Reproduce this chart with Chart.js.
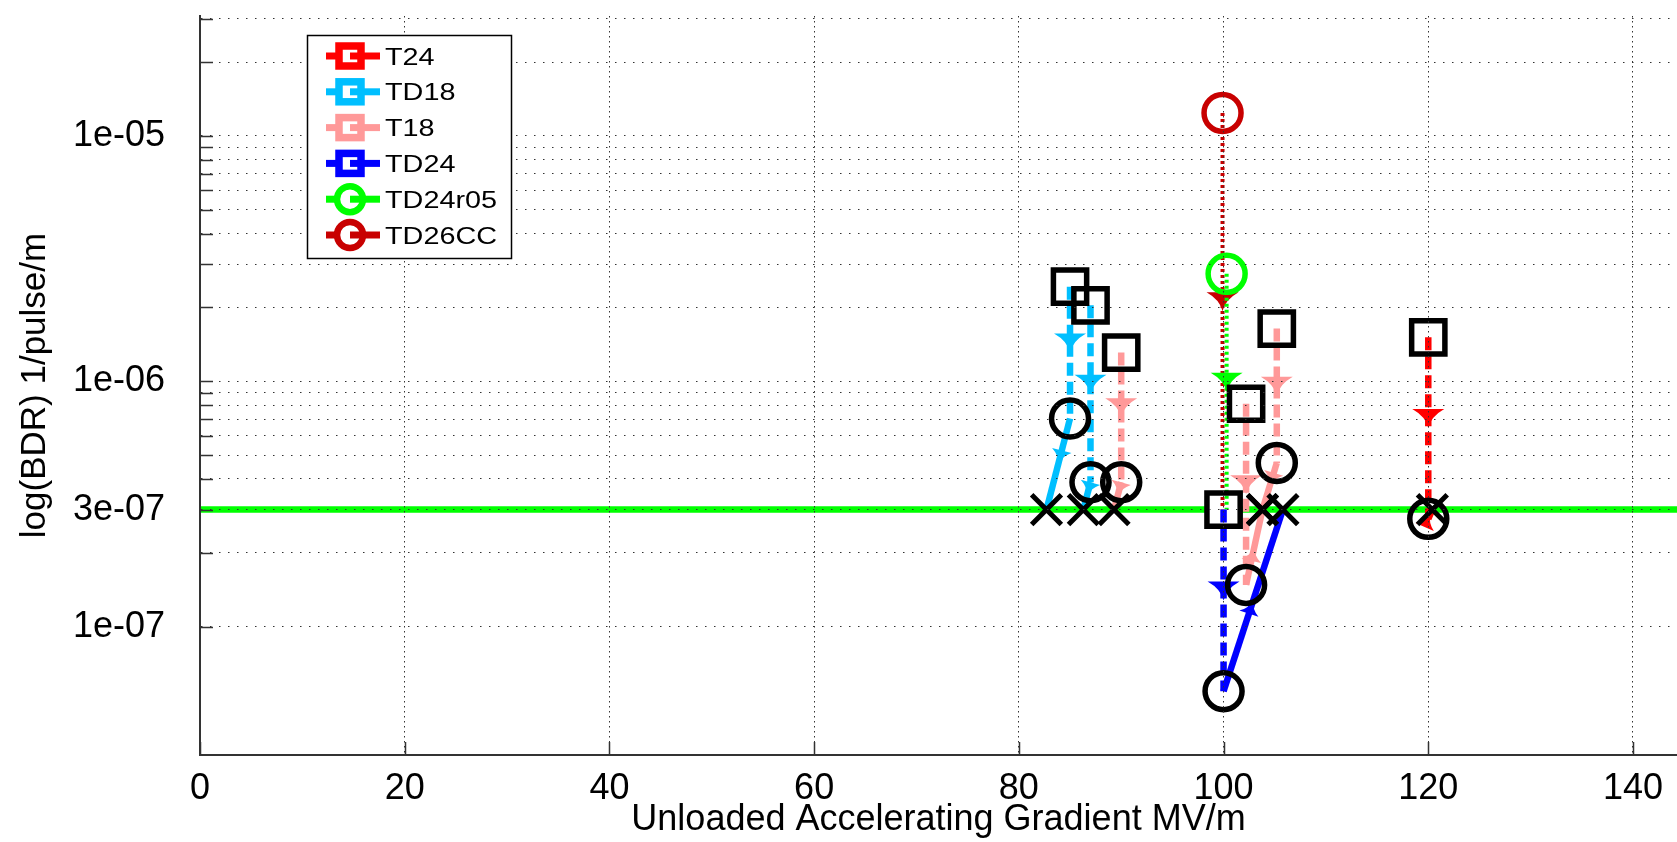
<!DOCTYPE html>
<html>
<head>
<meta charset="utf-8">
<title>Breakdown rate vs unloaded accelerating gradient</title>
<script src="https://cdn.jsdelivr.net/npm/chart.js@4.4.1/dist/chart.umd.min.js"></script>
<style>
  html, body { margin: 0; padding: 0; background: #ffffff; }
  #wrap { width: 1677px; height: 842px; }
</style>
</head>
<body>
<div id="wrap"><canvas id="bdr" width="1677" height="842"></canvas></div>
<script>
// ---- Measurements: one entry per structure run ----
const runDesign      = ['T24', 'TD18', 'TD18', 'T18', 'T18', 'T18', 'TD24', 'TD24r05', 'TD26CC'];
const startGradient  = [120, 85, 87, 90, 102.2, 105.2, 100, 100.3, 99.9];              // MV/m
const startBDR       = [1.51e-6, 2.43e-6, 2.04e-6, 1.31e-6, 8.1e-7, 1.64e-6, 3.0e-7, 2.74e-6, 1.24e-5];
const finalGradient  = [120, 85, 87, 90, 102.2, 105.2, 100, null, null];                // MV/m
const finalBDR       = [2.75e-7, 7.05e-7, 3.88e-7, 3.88e-7, 1.48e-7, 4.65e-7, 5.46e-8, null, null];
const scaledGradient = [120.4, 82.7, 86.3, 89.3, 103.8, 103.8, 105.8, 100.3, 99.9];    // gradient at target BDR
const targetBDR = 3e-7;

const designs = ['T24', 'TD18', 'T18', 'TD24', 'TD24r05', 'TD26CC'];

// ---- Axes ----
const gradientTicks = [0, 20, 40, 60, 80, 100, 120, 140];
const bdrGridValues = [3e-5, 2e-5, 1e-5, 9e-6, 8e-6, 7e-6, 6e-6, 5e-6, 4e-6, 3e-6, 2e-6,
                       1e-6, 9e-7, 8e-7, 7e-7, 6e-7, 5e-7, 4e-7, 3e-7, 2e-7, 1e-7];
const bdrLabelValues = [1e-5, 1e-6, 3e-7, 1e-7];
const bdrLabels      = ['1e-05', '1e-06', '3e-07', '1e-07'];
const xMax = 144.3, yMin = 3.2e-8, yMax = 3.08e-5;

// ---- Styling ----
const FONT = "'Liberation Sans', Arial, Helvetica, sans-serif";
const designStyle = {
  T24:     { color: '#ff0000', marker: 'rect' },
  TD18:    { color: '#00bfff', marker: 'rect' },
  T18:     { color: '#ff9999', marker: 'rect' },
  TD24:    { color: '#0000ff', marker: 'rect' },
  TD24r05: { color: '#00ff00', marker: 'circle' },
  TD26CC:  { color: '#c80000', marker: 'circle' }
};
const BIG_ARROW = { length: 19, width: 32 };
const SMALL_ARROW = { length: 14, width: 20 };
const SQUARE_R = 23.5, CIRCLE_R = 18.5, CROSS_R = 21;
const PATH_WIDTH = 6.5;

const runs = runDesign.map((d, i) => i);
const hasFinal = i => finalBDR[i] !== null;
const isSquare = i => designStyle[runDesign[i]].marker === 'rect';
const colorOf = i => designStyle[runDesign[i]].color;

const datasets = [];

// Target breakdown-rate line across the whole axis
datasets.push({
  label: 'target', data: [{ x: 0, y: targetBDR }, { x: xMax, y: targetBDR }],
  showLine: true, borderColor: '#00ff00', borderWidth: 6.5, pointRadius: 0, order: 30
});

// White faces of the start squares (beneath the lines)
datasets.push({
  label: 'start-face',
  data: runs.filter(isSquare).map(i => ({ x: startGradient[i], y: startBDR[i] })),
  pointStyle: 'rect', pointRadius: SQUARE_R, backgroundColor: '#ffffff', borderWidth: 0, order: 25
});

// Conditioning paths
runs.forEach(i => {
  const c = colorOf(i);
  if (hasFinal(i)) {
    datasets.push({
      label: runDesign[i] + ' conditioning',
      data: [{ x: startGradient[i], y: startBDR[i] }, { x: finalGradient[i], y: finalBDR[i] }],
      showLine: true, borderColor: c, backgroundColor: c, borderWidth: PATH_WIDTH, borderDash: [13, 6],
      pointRadius: 0, order: 10, arrow: BIG_ARROW
    });
    datasets.push({
      label: runDesign[i] + ' scaled',
      data: [{ x: finalGradient[i], y: finalBDR[i] }, { x: scaledGradient[i], y: targetBDR }],
      showLine: true, borderColor: c, backgroundColor: c, borderWidth: PATH_WIDTH,
      pointRadius: 0, order: 10, arrow: SMALL_ARROW
    });
  } else {
    datasets.push({
      label: runDesign[i] + ' scaled',
      data: [{ x: startGradient[i], y: startBDR[i] }, { x: scaledGradient[i], y: targetBDR }],
      showLine: true, borderColor: c, backgroundColor: c, borderWidth: 4, borderDash: [3, 3],
      pointRadius: 0, order: 10, arrow: BIG_ARROW
    });
  }
});

// Start squares (outline)
datasets.push({
  label: 'start',
  data: runs.filter(isSquare).map(i => ({ x: startGradient[i], y: startBDR[i] })),
  pointStyle: 'rect', pointRadius: SQUARE_R, backgroundColor: 'rgba(0,0,0,0)',
  borderColor: '#000000', borderWidth: 5.5, order: 3
});

// Coloured start circles
const circleRuns = runs.filter(i => !isSquare(i));
datasets.push({
  label: 'start-circle',
  data: circleRuns.map(i => ({ x: startGradient[i], y: startBDR[i] })),
  pointStyle: 'circle', pointRadius: CIRCLE_R, backgroundColor: 'rgba(0,0,0,0)',
  borderColor: circleRuns.map(colorOf), borderWidth: 5.5, order: 2
});

// Final measurements
datasets.push({
  label: 'final',
  data: runs.filter(hasFinal).map(i => ({ x: finalGradient[i], y: finalBDR[i] })),
  pointStyle: 'circle', pointRadius: CIRCLE_R, backgroundColor: 'rgba(0,0,0,0)',
  borderColor: '#000000', borderWidth: 5.5, order: 2
});

// Gradient scaled to the target rate
datasets.push({
  label: 'scaled',
  data: runs.filter(hasFinal).map(i => ({ x: scaledGradient[i], y: targetBDR })),
  pointStyle: 'crossRot', pointRadius: CROSS_R, backgroundColor: 'rgba(0,0,0,0)',
  borderColor: '#000000', borderWidth: 5, order: 1
});

// Arrowhead at the middle of each path, pointing along it
const arrowheads = {
  id: 'arrowheads',
  afterDatasetDraw(chart, args) {
    const ds = chart.data.datasets[args.index];
    if (!ds.arrow) return;
    const pts = args.meta.data;
    if (pts.length < 2) return;
    const a = pts[0], b = pts[1];
    const dx = b.x - a.x, dy = b.y - a.y, len = Math.hypot(dx, dy);
    if (!len) return;
    const ux = dx / len, uy = dy / len, nx = -uy, ny = ux;
    const tx = (a.x + b.x) / 2, ty = (a.y + b.y) / 2;
    const L = ds.arrow.length, W = ds.arrow.width;
    const bx = tx - ux * L, by = ty - uy * L;
    const ctx = chart.ctx;
    ctx.save();
    ctx.fillStyle = ds.borderColor;
    ctx.beginPath();
    ctx.moveTo(tx, ty);
    ctx.quadraticCurveTo(tx - ux * L * 0.6 + nx * W * 0.08, ty - uy * L * 0.6 + ny * W * 0.08,
                         bx + nx * W / 2, by + ny * W / 2);
    ctx.lineTo(bx - nx * W / 2, by - ny * W / 2);
    ctx.quadraticCurveTo(tx - ux * L * 0.6 - nx * W * 0.08, ty - uy * L * 0.6 - ny * W * 0.08, tx, ty);
    ctx.closePath();
    ctx.fill();
    ctx.restore();
  }
};

// Tick marks drawn inward from the axes
const innerTicks = {
  id: 'innerTicks',
  afterDraw(chart) {
    const { ctx, chartArea: area, scales: { x, y } } = chart;
    ctx.save();
    ctx.strokeStyle = '#333333';
    ctx.lineWidth = 1.5;
    ctx.beginPath();
    y.ticks.forEach(t => {
      const py = Math.round(y.getPixelForValue(t.value)) + 0.5;
      ctx.moveTo(area.left, py); ctx.lineTo(area.left + 13, py);
    });
    x.ticks.forEach(t => {
      const px = Math.round(x.getPixelForValue(t.value)) + 0.5;
      ctx.moveTo(px, area.bottom); ctx.lineTo(px, area.bottom - 13);
    });
    ctx.stroke();
    ctx.restore();
  }
};

// Boxed legend: line sample with the design's marker
const structureLegend = {
  id: 'structureLegend',
  afterDraw(chart) {
    const { ctx, chartArea: area } = chart;
    const bx = area.left + 107, by = area.top + 19, bw = 204, bh = 223;
    ctx.save();
    ctx.fillStyle = '#ffffff';
    ctx.fillRect(bx, by, bw, bh);
    ctx.strokeStyle = '#000000';
    ctx.lineWidth = 1.5;
    ctx.strokeRect(bx + 0.5, by + 0.5, bw, bh);
    designs.forEach((name, k) => {
      const st = designStyle[name];
      const y = by + 21 + k * 35.8;
      const mx = bx + 43;
      ctx.strokeStyle = st.color;
      ctx.lineWidth = 7;
      ctx.beginPath(); ctx.moveTo(bx + 19, y); ctx.lineTo(mx, y); ctx.stroke();
      ctx.fillStyle = '#ffffff';
      if (st.marker === 'rect') {
        ctx.lineWidth = 7.5;
        ctx.fillRect(mx - 11, y - 10, 22, 20);
        ctx.strokeRect(mx - 11, y - 10, 22, 20);
      } else {
        ctx.lineWidth = 6.5;
        ctx.beginPath(); ctx.arc(mx, y, 13, 0, Math.PI * 2); ctx.fill(); ctx.stroke();
      }
      ctx.lineWidth = 7;
      ctx.beginPath(); ctx.moveTo(mx, y); ctx.lineTo(bx + 73, y); ctx.stroke();
      ctx.save();
      ctx.translate(bx + 78, y + 2);
      ctx.scale(1.2, 1);
      ctx.fillStyle = '#000000';
      ctx.font = '24px ' + FONT;
      ctx.textBaseline = 'middle';
      ctx.textAlign = 'left';
      ctx.fillText(name, 0, 0);
      ctx.restore();
    });
    ctx.restore();
  }
};

const labelForBDR = v => {
  const k = bdrLabelValues.findIndex(l => Math.abs(l - v) / l < 1e-6);
  return k >= 0 ? bdrLabels[k] : '';
};

new Chart(document.getElementById('bdr'), {
  type: 'scatter',
  data: { datasets },
  plugins: [arrowheads, innerTicks, structureLegend],
  options: {
    responsive: false,
    animation: false,
    events: [],
    devicePixelRatio: 1,
    layout: { autoPadding: false, padding: { top: 16, left: 0, right: 0, bottom: 0 } },
    plugins: { legend: { display: false }, tooltip: { enabled: false } },
    scales: {
      x: {
        type: 'linear', min: 0, max: xMax,
        afterBuildTicks: s => { s.ticks = gradientTicks.map(v => ({ value: v })); },
        afterFit: s => { s.height = 87; s.paddingLeft = 0; s.paddingRight = 0; },
        ticks: { autoSkip: false, maxRotation: 0, padding: 12, color: '#000000',
                 font: { family: FONT, size: 36 }, callback: v => String(v) },
        grid: { color: '#333333', lineWidth: 1, drawTicks: false, z: 1 },
        border: { display: true, color: '#333333', width: 2, dash: [1.5, 3.5], z: 2 },
        title: { display: true, text: 'Unloaded Accelerating Gradient MV/m', color: '#000000',
                 font: { family: FONT, size: 36 }, padding: { top: 0, bottom: 0 } }
      },
      y: {
        type: 'logarithmic', min: yMin, max: yMax,
        afterBuildTicks: s => { s.ticks = bdrGridValues.map(v => ({ value: v })); },
        afterFit: s => { s.width = 200; s.paddingTop = 0; s.paddingBottom = 0; },
        ticks: { autoSkip: false, padding: 35, color: '#000000',
                 font: { family: FONT, size: 36 }, callback: v => labelForBDR(v) },
        grid: { color: '#333333', lineWidth: 1, drawTicks: false, z: 1 },
        border: { display: true, color: '#333333', width: 2, dash: [1.5, 7.5], z: 2 },
        title: { display: true, text: 'log(BDR) 1/pulse/m', color: '#000000',
                 font: { family: FONT, size: 35 }, padding: { top: 14, bottom: 0 } }
      }
    }
  }
});
</script>
</body>
</html>
